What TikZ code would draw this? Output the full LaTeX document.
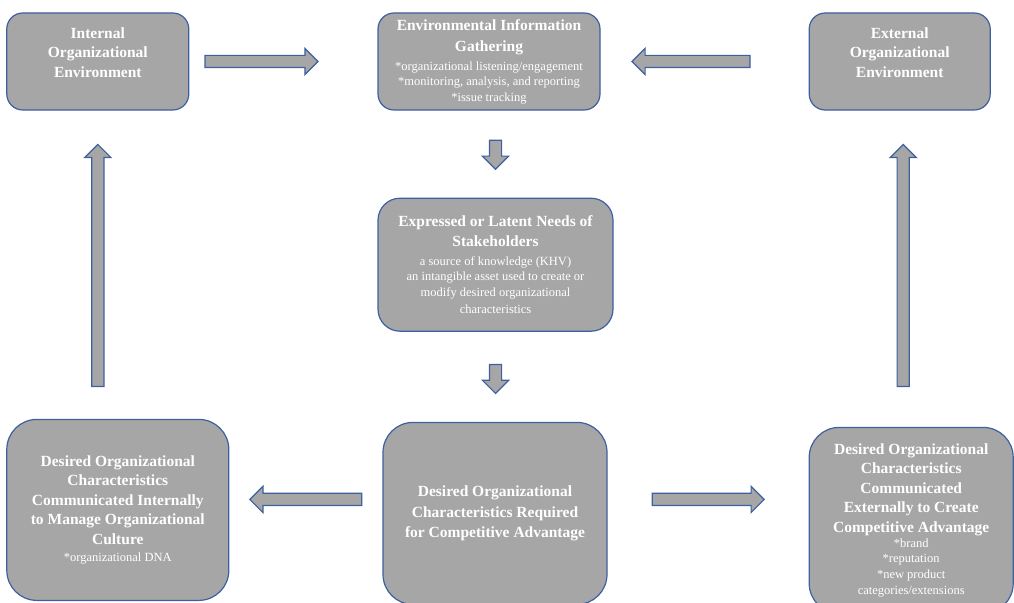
\documentclass[tikz,border=0pt]{standalone}
\usepackage{fontspec}
\setmainfont{Liberation Serif}
\usepackage{tikz}
\usetikzlibrary{positioning, shapes.arrows}
\definecolor{boxgray}{RGB}{166,166,166}
\definecolor{edgeblue}{RGB}{61,96,160}
\newcommand{\headfont}{\fontsize{15.5}{19.5}\selectfont\bfseries}
\newcommand{\notefont}{\fontsize{12.5}{15.5}\selectfont\mdseries}
\tikzset{box/.style = {draw=edgeblue, fill=boxgray, line width=1.2pt, rounded corners=16pt, text=white, align=center, inner sep=0pt}}
\tikzset{boxtitle/.style = {text=white, align=center, font=\headfont, inner sep=0pt}}
\tikzset{blockarrow/.style = {single arrow, draw=edgeblue, fill=boxgray, line width=1.2pt, inner sep=5.5pt, single arrow head extend=7pt}}

\begin{document}
\begin{tikzpicture}[x=1pt, y=-1pt, node distance=88pt, semithick]
  \useasboundingbox (0,0) rectangle (1014,602);
  \clip (0,0) rectangle (1014,602);

  \node [box, minimum width=222pt, minimum height=97pt, font=\notefont] (gather) at (489,61.5) {{\headfont Environmental Information}\\[5.5pt]{\headfont Gathering}\\[3.5pt]*organizational listening/engagement\\*monitoring, analysis, and reporting\\*issue tracking};
  \node [box, minimum width=182pt, minimum height=97pt, left=188pt of gather] (inner) {};
  \node [boxtitle] (innertext) at ([yshift=9pt]inner.center) {Internal\\Organizational\\Environment};
  \node [box, minimum width=181pt, minimum height=97pt, right=208pt of gather] (outer) {};
  \node [boxtitle] (outertext) at ([yshift=9pt]outer.center) {External\\Organizational\\Environment};

  \node [box, minimum width=235pt, minimum height=133pt, rounded corners=22pt, font=\notefont, below=87pt of gather, xshift=6.5pt] (needs) {{\headfont Expressed or Latent Needs of}\\[4.5pt]{\headfont Stakeholders}\\[3.5pt]a source of knowledge (KHV)\\an intangible asset used to create or\\modify desired organizational\\[2pt]characteristics};

  \node [box, minimum width=224pt, minimum height=182pt, rounded corners=30pt, font=\headfont, below=90pt of needs, xshift=-0.5pt] (required) {Desired Organizational\\[1pt]Characteristics Required\\[1pt]for Competitive Advantage};
  \node [box, minimum width=222pt, minimum height=181pt, rounded corners=30pt, font=\headfont, left=153pt of required, yshift=3.5pt] (culture) {Desired Organizational\\Characteristics\\Communicated Internally\\to Manage Organizational\\Culture\\[-2.5pt]{\notefont *organizational DNA}};
  \node [box, minimum width=204pt, minimum height=186pt, rounded corners=30pt, font=\headfont, right=201pt of required, yshift=-7pt] (brand) {Desired Organizational\\Characteristics\\Communicated\\Externally to Create\\Competitive Advantage\\[-4.5pt]{\notefont *brand}\\[-4.5pt]{\notefont *reputation}\\[-3.5pt]{\notefont *new product}\\[-3pt]{\notefont categories/extensions}};

  \node [blockarrow, minimum height=113pt, anchor=tail] (toinfo) at ([xshift=15pt]inner.east) {};
  \node [blockarrow, minimum height=118pt, shape border rotate=180, anchor=tail] (fromout) at ([xshift=-58pt]outer.west) {};
  \node [blockarrow, minimum height=29pt, shape border rotate=270, anchor=tail] (toneeds) at ([yshift=58pt]needs.north) {};
  \node [blockarrow, minimum height=29pt, shape border rotate=270, anchor=tail] (toreq) at ([yshift=-32pt]needs.south) {};
  \node [blockarrow, minimum height=242pt, shape border rotate=90, anchor=tip] (upin) at ([yshift=-33pt]inner.south) {};
  \node [blockarrow, minimum height=242pt, shape border rotate=90, anchor=tip] (upout) at ([xshift=3.5pt, yshift=-33pt]outer.south) {};
  \node [blockarrow, minimum height=112pt, shape border rotate=180, anchor=tail] (toculture) at ([xshift=-20pt, yshift=14pt]required.west) {};
  \node [blockarrow, minimum height=112pt, anchor=tail] (tobrand) at ([xshift=44pt, yshift=14pt]required.east) {};
\end{tikzpicture}
\end{document}
